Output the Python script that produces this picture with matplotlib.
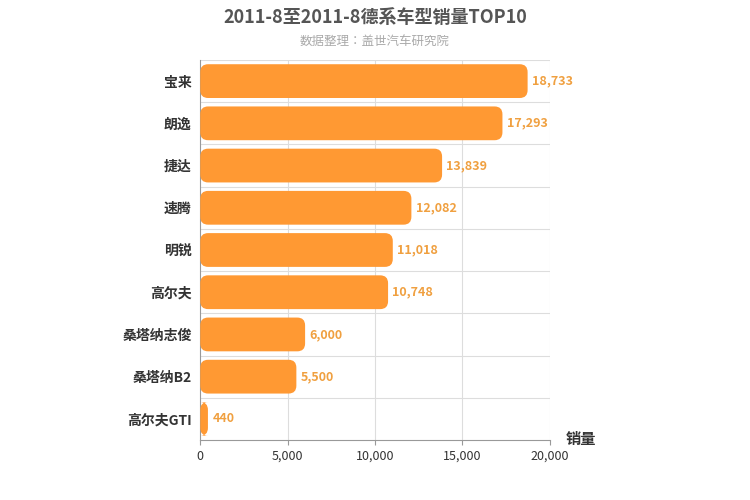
import matplotlib
matplotlib.use("Agg")
import matplotlib.pyplot as plt
from matplotlib.patches import FancyBboxPatch
from matplotlib import font_manager

names = {f.name for f in font_manager.fontManager.ttflist}
cjk = next((n for n in ["Noto Sans CJK SC", "Noto Sans CJK JP", "Noto Sans CJK TC", "Noto Sans CJK KR"] if n in names), "DejaVu Sans")
plt.rcParams["font.family"] = [cjk]

categories = ["宝来", "朗逸", "捷达", "速腾", "明锐", "高尔夫", "桑塔纳志俊", "桑塔纳B2", "高尔夫GTI"]
values = [18733, 17293, 13839, 12082, 11018, 10748, 6000, 5500, 440]
xticks = [0, 5000, 10000, 15000, 20000]

fig = plt.figure(figsize=(7.5, 5), dpi=100)
ax = fig.add_axes([0.267, 0.12, 0.466, 0.76])
n = len(categories)
ax.set_xlim(0, 20000)
ax.set_ylim(n - 0.5, -0.5)
color = "#FF9933"
aspect = (n / 380) / (20000 / 350)
for i, v in enumerate(values):
    h = 0.8
    p = FancyBboxPatch((0, i - h / 2), v, h, boxstyle="round,pad=0,rounding_size=450",
                       mutation_aspect=aspect, fc=color, ec="none", zorder=3)
    ax.add_patch(p)
    ax.text(v + 250, i, f"{v:,}", va="center", ha="left", color="#F0A040",
            fontsize=9, fontweight="bold", zorder=4)

ax.set_yticks(range(n))
ax.set_yticklabels(categories, fontsize=10, fontweight="bold", color="#333333")
ax.set_xticks(xticks)
ax.set_xticklabels([f"{t:,}" for t in xticks], fontsize=9, color="#333333")
for x in xticks[1:]:
    ax.axvline(x, color="#dddddd", lw=0.8, zorder=1)
for b in range(n):
    ax.axhline(b - 0.5, color="#dddddd", lw=0.8, zorder=1)
for s in ["top", "right"]:
    ax.spines[s].set_visible(False)
ax.spines["left"].set_color("#999999")
ax.spines["bottom"].set_color("#999999")
ax.tick_params(axis="y", length=0, pad=6)
ax.tick_params(axis="x", colors="#999999", labelcolor="#333333")

fig.text(0.5, 0.965, "2011-8至2011-8德系车型销量TOP10", ha="center", va="center",
         fontsize=13, fontweight="bold", color="#555555")
fig.text(0.5, 0.918, "数据整理：盖世汽车研究院", ha="center", va="center",
         fontsize=9, color="#aaaaaa")
fig.text(0.775, 0.122, "销量", ha="center", va="center", fontsize=11,
         fontweight="bold", color="#333333")
fig.savefig("out.png", dpi=100)
